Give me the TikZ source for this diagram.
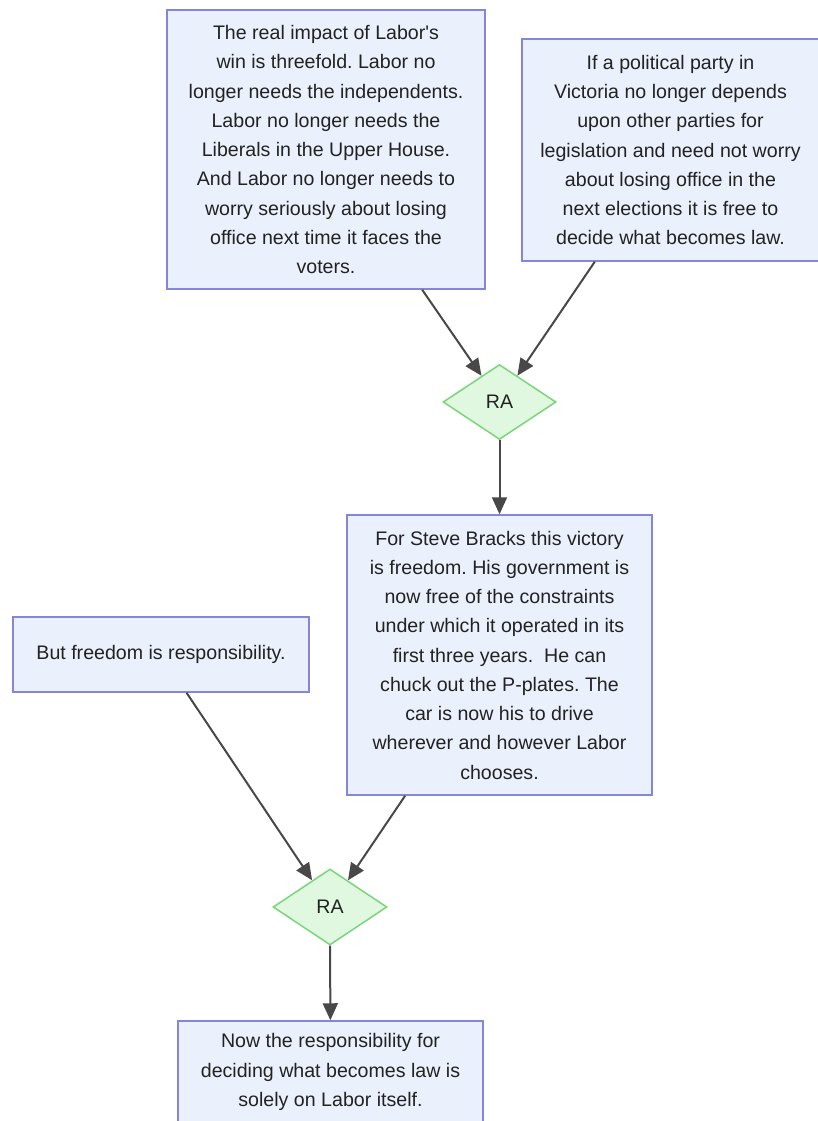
\documentclass[tikz,border=0pt]{standalone}
\usepackage{fontspec}
\setmainfont{Liberation Sans}
\newfontfamily\diagfont{Liberation Sans}
\usetikzlibrary{shapes.geometric,arrows.meta}
\definecolor{boxfill}{HTML}{EAF1FD}
\definecolor{boxline}{HTML}{8585DA}
\definecolor{rafill}{HTML}{DFF8DF}
\definecolor{raline}{HTML}{7AD67A}
\definecolor{txt}{HTML}{222222}
\definecolor{arr}{HTML}{484848}
\frenchspacing
\begin{document}
\begin{tikzpicture}[x=1pt,y=-1pt,
  textbox/.style={rectangle,draw=boxline,fill=boxfill,line width=1.5pt,inner sep=0pt,
    align=center,text=txt,font=\diagfont\fontsize{19.6pt}{29.25pt}\selectfont},
  ranode/.style={diamond,draw=raline,fill=rafill,line width=1.5pt,inner sep=0pt,
    text=txt,font=\diagfont\fontsize{19.6pt}{24pt}\selectfont},
  conn/.style={draw=arr,line width=2pt,-{Triangle[length=17pt,width=15pt]}}]
\useasboundingbox (0,0) rectangle (818,1121);
\node[textbox,minimum width=318pt,minimum height=279pt] (a) at (326,149.5)
  {The real impact of Labor's\\win is threefold. Labor no\\longer needs the independents.\\Labor no longer needs the\\Liberals in the Upper House.\\And Labor no longer needs to\\worry seriously about losing\\office next time it faces the\\voters.};
\node[textbox,minimum width=297pt,minimum height=222pt] (b) at (670.5,150)
  {If a political party in\\Victoria no longer depends\\upon other parties for\\legislation and need not worry\\about losing office in the\\next elections it is free to\\decide what becomes law.};
\node[ranode,minimum width=113pt,minimum height=75pt] (ra1) at (499.5,402) {RA};
\node[textbox,minimum width=305pt,minimum height=280pt] (c) at (499.5,655)
  {For Steve Bracks this victory\\is freedom. His government is\\now free of the constraints\\under which it operated in its\\first three years.\ \ He can\\chuck out the P-plates. The\\car is now his to drive\\wherever and however Labor\\chooses.};
\node[textbox,minimum width=296pt,minimum height=75pt] (d) at (161,654.5)
  {But freedom is responsibility.};
\node[ranode,minimum width=114pt,minimum height=76pt] (ra2) at (330,907) {RA};
\node[textbox,minimum width=305pt,minimum height=102pt] (e) at (330.5,1072)
  {Now the responsibility for\\deciding what becomes law is\\solely on Labor itself.};
\draw[conn] (a) -- (ra1);
\draw[conn] (b) -- (ra1);
\draw[conn] (ra1) -- (c);
\draw[conn] (d) -- (ra2);
\draw[conn] (c) -- (ra2);
\draw[conn] (ra2) -- (e);
\end{tikzpicture}
\end{document}
